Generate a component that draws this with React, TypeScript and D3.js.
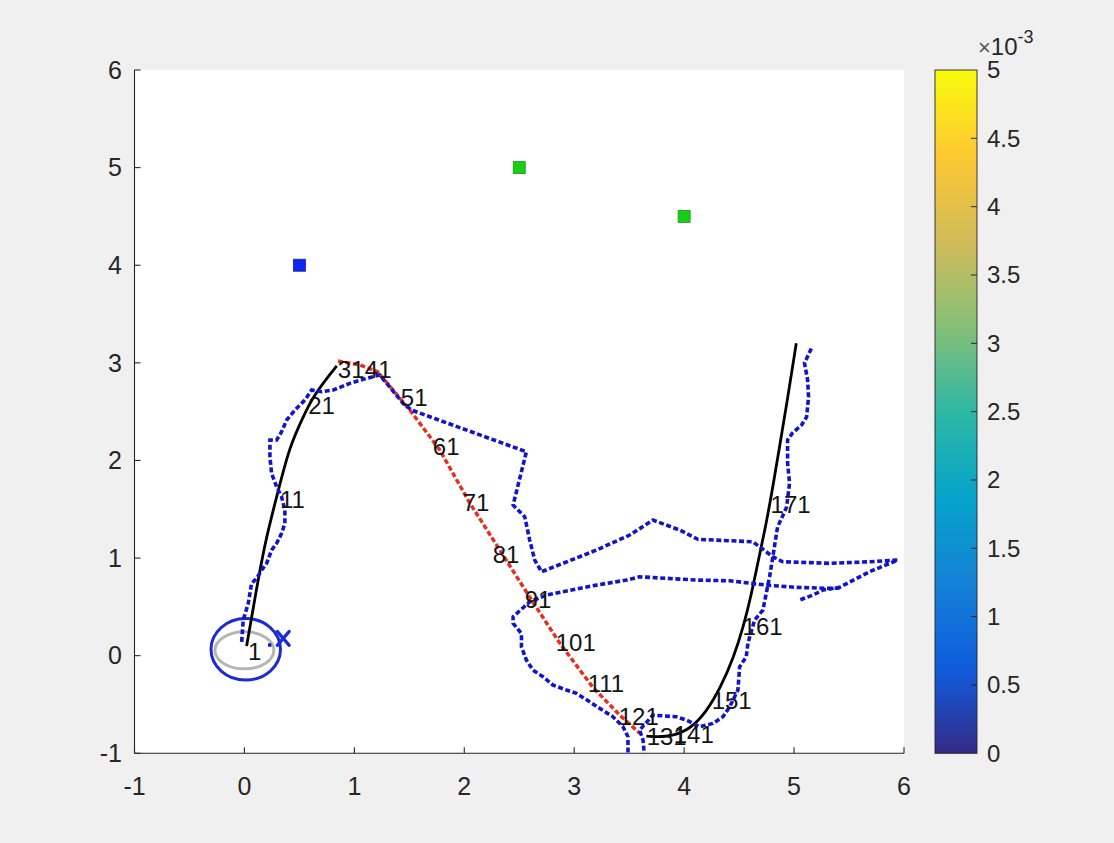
import React from "react";
import * as d3 from "d3";

type P = [number, number];

const xTicks = [-1, 0, 1, 2, 3, 4, 5, 6];
const yTicks = [-1, 0, 1, 2, 3, 4, 5, 6];
const cbTicks = [0, 0.5, 1, 1.5, 2, 2.5, 3, 3.5, 4, 4.5, 5];
const cbTickLabels = ["0", "0.5", "1", "1.5", "2", "2.5", "3", "3.5", "4", "4.5", "5"];
const parula = ["#352a87", "#0f5cdd", "#1481d6", "#06a4ca", "#2eb7a4", "#87bf77", "#d1bb59", "#fec832", "#f9fb0e"];

const blueLandmarks: P[] = [[0.5, 4]];
const greenLandmarks: P[] = [[2.5, 5], [4, 4.5]];

const truePathStart: P[] = [
  [0.02, 0.1], [0.1, 0.62], [0.19, 1.18], [0.31, 1.7], [0.41, 2.14], [0.535, 2.45], [0.625, 2.65], [0.72, 2.8], [0.84, 2.97],
];
const truePathEnd: P[] = [
  [3.656, -0.824], [3.85, -0.838], [4.05, -0.76], [4.2, -0.58], [4.33, -0.33], [4.45, -0.02], [4.54, 0.3], [4.61, 0.62],
  [4.67, 0.95], [4.747, 1.355], [4.807, 1.73], [4.868, 2.14], [4.929, 2.55], [5.02, 3.2],
];
const plannedPath: P[] = [
  [0.851, 3.018], [1.05, 2.98], [1.214, 2.906], [1.505, 2.516], [1.777, 2.107], [2.05, 1.564], [2.323, 1.082], [2.595, 0.6],
  [2.868, 0.129], [3.168, -0.322], [3.414, -0.609], [3.595, -0.793],
];
const estimateA: P[] = [
  [-0.025, 0.142], [-0.011, 0.365], [0.035, 0.536], [0.065, 0.741], [0.111, 0.792], [0.156, 0.877], [0.202, 0.946],
  [0.247, 1.082], [0.293, 1.151], [0.338, 1.253], [0.368, 1.356], [0.368, 1.492], [0.338, 1.628], [0.293, 1.73],
  [0.247, 1.868], [0.232, 2.038], [0.232, 2.209], [0.293, 2.209], [0.338, 2.294], [0.384, 2.414], [0.459, 2.516],
  [0.55, 2.619], [0.611, 2.721], [0.702, 2.704], [0.807, 2.721], [0.959, 2.79], [1.111, 2.841], [1.232, 2.875],
  [1.444, 2.585], [1.52, 2.516], [1.686, 2.448], [2.565, 2.089], [2.444, 1.543], [2.55, 1.423], [2.595, 1.184],
  [2.641, 0.98], [2.702, 0.86], [2.898, 0.946], [3.202, 1.082], [3.505, 1.236], [3.716, 1.389], [3.959, 1.287],
  [4.125, 1.192], [4.625, 1.167], [4.686, 1.116], [4.807, 1.013], [4.898, 0.962], [5.322, 0.946], [5.686, 0.962],
  [5.944, 0.98], [5.686, 0.86], [5.414, 0.7], [5.262, 0.672], [5.171, 0.621], [5.05, 0.57],
];
const estimateB: P[] = [
  [5.414, 0.693], [5.322, 0.69], [5.02, 0.7], [4.747, 0.723], [4.414, 0.767], [4.111, 0.775], [3.595, 0.808],
  [3.475, 0.775], [3.202, 0.723], [2.898, 0.655], [2.747, 0.621], [2.595, 0.552], [2.444, 0.399], [2.444, 0.331],
  [2.52, 0.228], [2.52, 0.091], [2.565, -0.045], [2.625, -0.148], [2.716, -0.216], [2.807, -0.301], [2.929, -0.352],
  [3.02, -0.386], [3.141, -0.472], [3.232, -0.54], [3.353, -0.626], [3.444, -0.728], [3.489, -0.831], [3.489, -1.05],
];
const estimateC: P[] = [
  [3.641, -1.05], [3.626, -0.865], [3.595, -0.762], [3.716, -0.609], [3.929, -0.626], [4.02, -0.66], [4.141, -0.728],
  [4.262, -0.694], [4.353, -0.626], [4.414, -0.524], [4.489, -0.352], [4.505, -0.114], [4.565, -0.011], [4.58, 0.126],
  [4.641, 0.365], [4.716, 0.467], [4.747, 0.638], [4.777, 0.808], [4.807, 1.013], [4.83, 1.18], [4.85, 1.317],
  [4.932, 1.522], [4.959, 1.768], [4.941, 1.973], [4.941, 2.209], [4.986, 2.281], [5.068, 2.363], [5.114, 2.445],
  [5.132, 2.65], [5.123, 2.824], [5.095, 2.998], [5.159, 3.152],
];
const estimateStub: P[] = [[0.215, 0.11], [0.245, 0.11]];

const stepLabels = ["1", "11", "21", "31", "41", "51", "61", "71", "81", "91", "101", "111", "121", "131", "141", "151", "161", "171"];
const stepLabelX = [0.032, 0.323, 0.58, 0.85, 1.095, 1.423, 1.714, 1.986, 2.259, 2.55, 2.832, 3.123, 3.405, 3.659, 3.905, 4.25, 4.532, 4.786];
const stepLabelY = [0.045, 1.6, 2.557, 2.934, 2.934, 2.639, 2.137, 1.572, 1.039, 0.578, 0.138, -0.282, -0.62, -0.825, -0.81, -0.46, 0.297, 1.546];

const covCircle = { cx: 0.012, cy: 0.065, rx: 0.316, ry: 0.315 };
const covEllipse = { cx: 0.0, cy: 0.055, rx: 0.268, ry: 0.19 };
const robotMark: P = [0.353, 0.177];

const FONT = "'Liberation Sans', Arial, Helvetica, sans-serif";

export default function App() {
  const W = 1114, H = 843;
  const L = 134.5, R = 904, T = 70, B = 753.3;
  const x = d3.scaleLinear().domain([-1, 6]).range([L, R]);
  const y = d3.scaleLinear().domain([-1, 6]).range([B, T]);
  const cbX0 = 935, cbX1 = 977;
  const cb = d3.scaleLinear().domain([0, 5]).range([B, T]);

  const straight = d3.line<P>().x((d) => x(d[0])).y((d) => y(d[1]));
  const smooth = d3.line<P>().x((d) => x(d[0])).y((d) => y(d[1])).curve(d3.curveBasis);

  const blue = "#1214cc";
  const red = "#e5301f";
  const dash = "5 2.6";
  const axisCol = "#262626";

  const ell = (e: { cx: number; cy: number; rx: number; ry: number }) => ({
    cx: x(e.cx),
    cy: y(e.cy),
    rx: x(e.cx + e.rx) - x(e.cx),
    ry: y(e.cy) - y(e.cy + e.ry),
  });
  const c1 = ell(covCircle);
  const c2 = ell(covEllipse);
  const rm = [x(robotMark[0]), y(robotMark[1])];

  return (
    <div style={{ position: "absolute", left: 0, top: 0 }}>
      <svg width={W} height={H} style={{ display: "block" }} fontFamily={FONT}>
        <defs>
          <clipPath id="plotClip">
            <rect x={L} y={T} width={R - L} height={B - T} />
          </clipPath>
          <linearGradient id="parula" x1="0" y1="1" x2="0" y2="0">
            {parula.map((c, i) => (
              <stop key={i} offset={`${(i / (parula.length - 1)) * 100}%`} stopColor={c} />
            ))}
          </linearGradient>
        </defs>
        <rect x={0} y={0} width={W} height={H} fill="#f0f0f0" />
        <rect x={L} y={T} width={R - L} height={B - T} fill="#ffffff" />

        <g clipPath="url(#plotClip)">
          <ellipse cx={c2.cx} cy={c2.cy} rx={c2.rx} ry={c2.ry} fill="none" stroke="#b5b5b5" strokeWidth={3} />
          <ellipse cx={c1.cx} cy={c1.cy} rx={c1.rx} ry={c1.ry} fill="none" stroke="#1a2bd8" strokeWidth={3} />
          <path d={smooth(truePathStart) || ""} fill="none" stroke="#000" strokeWidth={2.8} />
          <path d={smooth(truePathEnd) || ""} fill="none" stroke="#000" strokeWidth={2.8} />
          <path d={straight(plannedPath) || ""} fill="none" stroke={red} strokeWidth={3.5} strokeDasharray={dash} />
          {[estimateA, estimateB, estimateC, estimateStub].map((p, i) => (
            <path key={i} d={straight(p) || ""} fill="none" stroke={blue} strokeWidth={3.6} strokeDasharray={dash} />
          ))}
          <g stroke="#1a2bd8" strokeWidth={3.2} strokeLinecap="round">
            <line x1={rm[0] - 6} y1={rm[1] - 7} x2={rm[0] + 6} y2={rm[1] + 7} />
            <line x1={rm[0] - 6} y1={rm[1] + 7} x2={rm[0] + 6} y2={rm[1] - 7} />
          </g>
          {blueLandmarks.map((d, i) => (
            <rect key={i} x={x(d[0]) - 6} y={y(d[1]) - 6} width={12} height={12} fill="#0a28f0" stroke="#1a1ab0" strokeWidth={0.8} />
          ))}
          {greenLandmarks.map((d, i) => (
            <rect key={i} x={x(d[0]) - 6} y={y(d[1]) - 6} width={12} height={12} fill="#18cc18" stroke="#10a010" strokeWidth={0.8} />
          ))}
          {stepLabels.map((t, i) => (
            <text key={t} x={x(stepLabelX[i])} y={y(stepLabelY[i])} dy="0.35em" fontSize={24} fill="#141414">
              {t}
            </text>
          ))}
        </g>

        {/* axes */}
        <g stroke={axisCol} strokeWidth={1.1}>
          <line x1={L} y1={T} x2={L} y2={B} />
          <line x1={L} y1={B} x2={R} y2={B} />
          {xTicks.map((t) => (
            <line key={"xt" + t} x1={x(t)} x2={x(t)} y1={B} y2={B - 6} />
          ))}
          {yTicks.map((t) => (
            <line key={"yt" + t} x1={L} x2={L + 6} y1={y(t)} y2={y(t)} />
          ))}
        </g>
        <g fontSize={25} fill={axisCol}>
          {xTicks.map((t) => (
            <text key={"xl" + t} x={x(t)} y={795} textAnchor="middle">
              {String(t)}
            </text>
          ))}
          {yTicks.map((t) => (
            <text key={"yl" + t} x={122} y={y(t)} dy="0.35em" textAnchor="end">
              {String(t)}
            </text>
          ))}
        </g>

        {/* colorbar */}
        <rect x={cbX0} y={T} width={cbX1 - cbX0} height={B - T} fill="url(#parula)" stroke={axisCol} strokeWidth={0.9} />
        <g stroke={axisCol} strokeWidth={1}>
          {cbTicks.slice(1, -1).map((t) => (
            <line key={"cbt" + t} x1={cbX1} x2={cbX1 - 6} y1={cb(t)} y2={cb(t)} />
          ))}
        </g>
        <g fontSize={24} fill={axisCol}>
          {cbTicks.map((t, i) => (
            <text key={"cbl" + t} x={987} y={cb(t)} dy="0.35em">
              {cbTickLabels[i]}
            </text>
          ))}
          <text x={978} y={55} fontSize={24}>
            <tspan fill="#555" fontSize={22}>×</tspan>10
            <tspan fontSize={18} dy={-12}>-3</tspan>
          </text>
        </g>
      </svg>
    </div>
  );
}
